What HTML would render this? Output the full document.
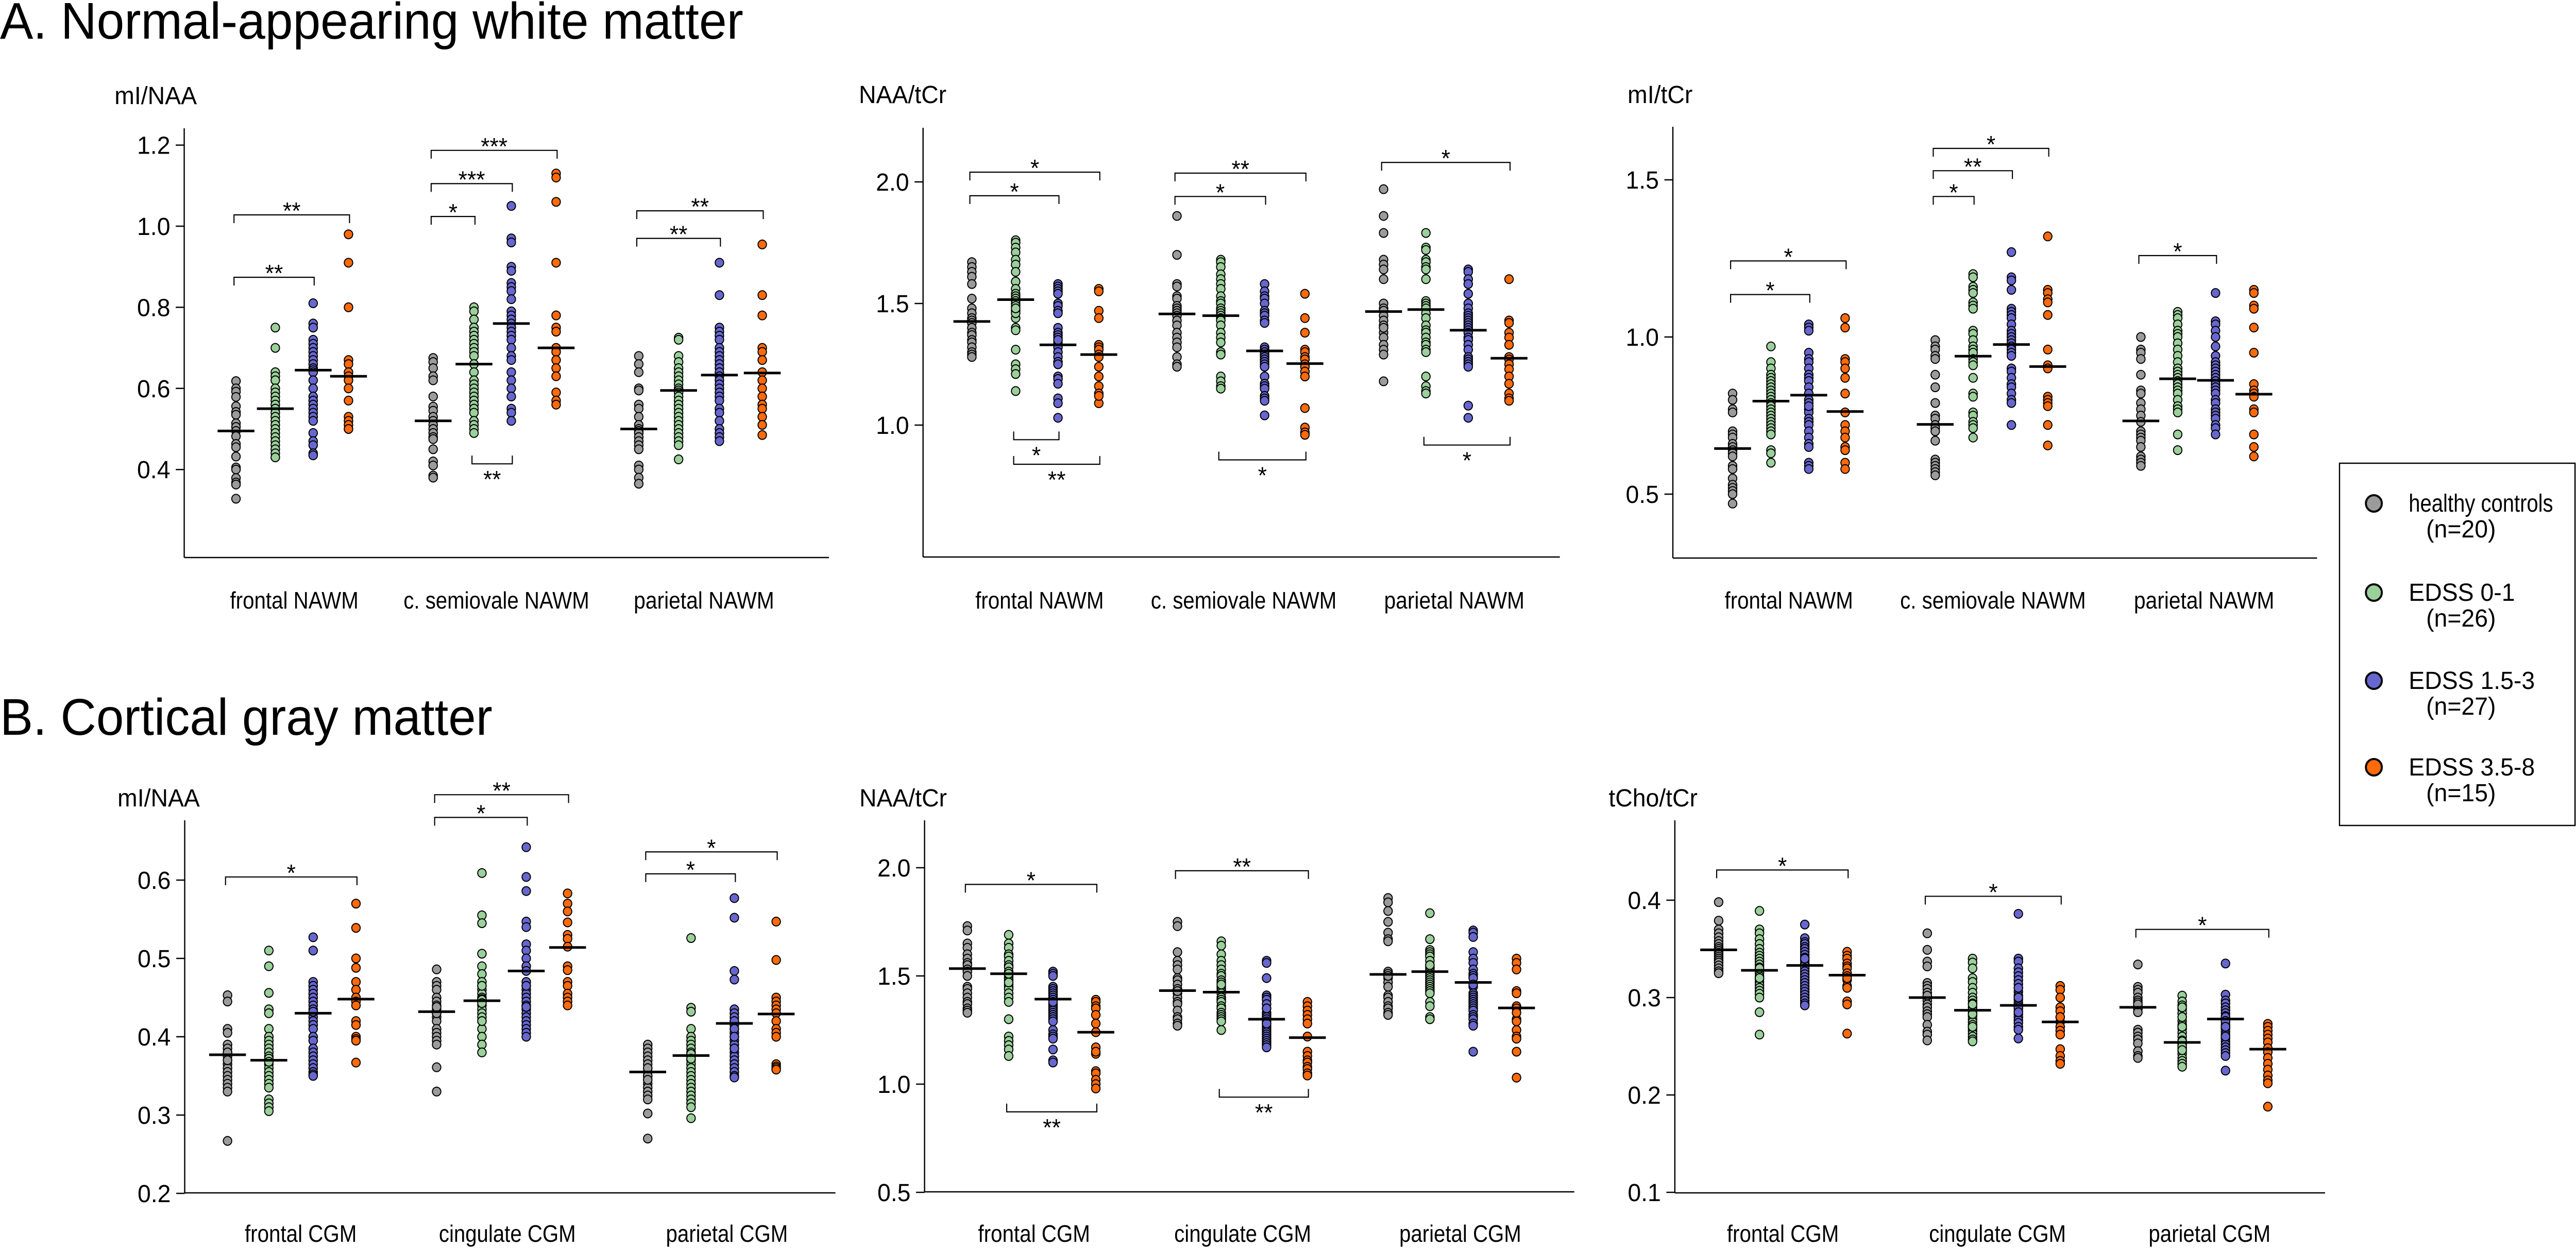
<!DOCTYPE html>
<html><head><meta charset="utf-8"><title>MRS scatter panels</title>
<style>
html,body{margin:0;padding:0;background:#fff;overflow:hidden;width:100%;height:100%;}
svg{display:block;position:fixed;left:0;top:0;width:100vw;height:100vh;font-family:"Liberation Sans",Arial,sans-serif;}
</style></head>
<body>
<svg id="fig" xmlns="http://www.w3.org/2000/svg" viewBox="0 0 5174 2422" preserveAspectRatio="none">
<rect x="0" y="0" width="5174" height="2422" fill="#fff"/>
<text x="0" y="75" font-size="100" textLength="1493" lengthAdjust="spacingAndGlyphs">A. Normal-appearing white matter</text>
<text x="0" y="1426" font-size="100" textLength="989" lengthAdjust="spacingAndGlyphs">B. Cortical gray matter</text>
<g id="legend">
<rect x="4699" y="899" width="473" height="703" fill="none" stroke="#000" stroke-width="2.5"/>
</g>
</svg>
<script>
// ---------- data ----------
const groupNames = ["healthy controls","EDSS 0-1","EDSS 1.5-3","EDSS 3.5-8"];
const groupN = ["(n=20)","(n=26)","(n=27)","(n=15)"];
const groupColors = ["#9b9b9b","#9bd09b","#6767cf","#ff6a0a"];

const p1Categories = ["frontal NAWM","c. semiovale NAWM","parietal NAWM"];
const p1Ticks = [0.4,0.6,0.8,1.0,1.2];
const p1TickLabels = ["0.4","0.6","0.8","1.0","1.2"];
const p1Medians = [[0.495,0.55,0.645,0.63],[0.52,0.66,0.76,0.70],[0.50,0.595,0.633,0.638]];
const p1Values = [
 [[0.618,0.60,0.592,0.579,0.556,0.542,0.535,0.514,0.505,0.495,0.482,0.463,0.455,0.432,0.405,0.40,0.379,0.368,0.363,0.328],
  [0.75,0.70,0.64,0.63,0.62,0.62,0.60,0.59,0.58,0.57,0.56,0.55,0.55,0.54,0.53,0.52,0.51,0.50,0.49,0.48,0.47,0.46,0.45,0.44,0.43,0.43],
  [0.81,0.76,0.75,0.72,0.71,0.70,0.69,0.68,0.67,0.66,0.65,0.645,0.64,0.62,0.60,0.58,0.57,0.56,0.55,0.54,0.53,0.52,0.49,0.47,0.46,0.44,0.435],
  [0.98,0.91,0.80,0.67,0.66,0.64,0.63,0.62,0.60,0.57,0.53,0.52,0.51,0.50,0.50]],
 [[0.675,0.665,0.65,0.63,0.62,0.58,0.555,0.545,0.53,0.52,0.51,0.50,0.49,0.48,0.475,0.45,0.42,0.41,0.385,0.38],
  [0.80,0.79,0.77,0.75,0.74,0.73,0.72,0.71,0.70,0.69,0.68,0.66,0.64,0.62,0.61,0.60,0.59,0.58,0.57,0.56,0.55,0.54,0.52,0.51,0.50,0.49],
  [1.05,0.97,0.96,0.90,0.89,0.86,0.85,0.84,0.82,0.79,0.78,0.77,0.76,0.75,0.74,0.73,0.72,0.70,0.68,0.67,0.64,0.62,0.60,0.58,0.55,0.54,0.52],
  [1.13,1.12,1.06,0.91,0.78,0.75,0.74,0.70,0.69,0.67,0.65,0.63,0.59,0.57,0.56]],
 [[0.68,0.66,0.64,0.60,0.595,0.56,0.55,0.53,0.51,0.50,0.495,0.49,0.48,0.47,0.46,0.45,0.41,0.40,0.38,0.365],
  [0.725,0.72,0.68,0.665,0.65,0.64,0.63,0.62,0.61,0.60,0.595,0.59,0.58,0.57,0.56,0.55,0.54,0.53,0.52,0.51,0.50,0.49,0.48,0.47,0.46,0.425],
  [0.91,0.83,0.75,0.74,0.73,0.72,0.70,0.69,0.68,0.67,0.66,0.65,0.64,0.63,0.62,0.61,0.60,0.59,0.58,0.57,0.55,0.54,0.52,0.50,0.49,0.48,0.47],
  [0.955,0.83,0.78,0.70,0.69,0.67,0.64,0.62,0.60,0.58,0.56,0.55,0.53,0.51,0.485]]
];
// brackets: [category, fromGroup, toGroup, value, label, side]
const p1Brackets = [[0,0,3,1.028,"**","up"],[0,0,2,0.874,"**","up"],[1,0,3,1.187,"***","up"],[1,0,2,1.105,"***","up"],[1,0,1,1.024,"*","up"],[1,1,2,0.414,"**","down"],[2,0,3,1.038,"**","up"],[2,0,2,0.97,"**","up"]];

const p2Categories = ["frontal NAWM","c. semiovale NAWM","parietal NAWM"];
const p2Ticks = [1.0,1.5,2.0];
const p2TickLabels = ["1.0","1.5","2.0"];
const p2Medians = [[1.426,1.516,1.33,1.29],[1.457,1.45,1.305,1.253],[1.467,1.475,1.39,1.275]];
const p2Values = [
 [[1.67,1.65,1.63,1.61,1.58,1.52,1.48,1.46,1.44,1.43,1.42,1.40,1.38,1.37,1.35,1.34,1.32,1.30,1.29,1.28],
  [1.76,1.75,1.73,1.71,1.68,1.66,1.63,1.59,1.56,1.54,1.53,1.52,1.51,1.50,1.49,1.47,1.44,1.40,1.39,1.31,1.25,1.23,1.21,1.14,1.46,1.48],
  [1.58,1.57,1.56,1.55,1.54,1.50,1.49,1.47,1.46,1.40,1.38,1.37,1.36,1.34,1.33,1.32,1.30,1.28,1.26,1.25,1.20,1.19,1.17,1.11,1.09,1.03,1.35],
  [1.56,1.55,1.47,1.44,1.33,1.32,1.31,1.29,1.28,1.24,1.20,1.16,1.13,1.09,1.12]],
 [[1.86,1.70,1.58,1.57,1.53,1.52,1.49,1.48,1.47,1.46,1.45,1.43,1.41,1.38,1.36,1.34,1.32,1.28,1.25,1.24],
  [1.68,1.67,1.65,1.62,1.60,1.58,1.56,1.53,1.51,1.50,1.48,1.47,1.46,1.45,1.44,1.43,1.41,1.38,1.36,1.34,1.30,1.29,1.20,1.18,1.16,1.15],
  [1.58,1.55,1.53,1.52,1.50,1.47,1.46,1.45,1.43,1.42,1.32,1.31,1.30,1.29,1.28,1.27,1.26,1.25,1.24,1.20,1.17,1.16,1.15,1.12,1.11,1.10,1.04],
  [1.54,1.44,1.38,1.31,1.30,1.28,1.27,1.25,1.24,1.22,1.20,1.07,0.99,0.97,0.96]],
 [[1.97,1.86,1.79,1.68,1.66,1.64,1.60,1.50,1.48,1.47,1.45,1.43,1.41,1.38,1.36,1.33,1.31,1.29,1.18,1.40],
  [1.79,1.73,1.72,1.68,1.67,1.65,1.64,1.60,1.51,1.50,1.49,1.48,1.46,1.44,1.41,1.39,1.38,1.36,1.34,1.33,1.31,1.30,1.20,1.16,1.14,1.13],
  [1.64,1.63,1.60,1.58,1.54,1.50,1.48,1.46,1.45,1.44,1.43,1.42,1.41,1.40,1.39,1.38,1.36,1.35,1.33,1.31,1.28,1.27,1.26,1.25,1.24,1.08,1.03],
  [1.60,1.43,1.42,1.38,1.36,1.33,1.28,1.27,1.25,1.23,1.20,1.17,1.13,1.11,1.10]]
];
const p2Brackets = [[0,0,3,2.04,"*","up"],[0,0,2,1.943,"*","up"],[0,1,2,0.94,"*","down"],[0,1,3,0.839,"**","down"],[1,0,3,2.036,"**","up"],[1,0,2,1.94,"*","up"],[1,1,3,0.857,"*","down"],[2,0,3,2.08,"*","up"],[2,1,3,0.918,"*","down"]];

const p3Categories = ["frontal NAWM","c. semiovale NAWM","parietal NAWM"];
const p3Ticks = [0.5,1.0,1.5];
const p3TickLabels = ["0.5","1.0","1.5"];
const p3Medians = [[0.645,0.796,0.815,0.763],[0.722,0.939,0.976,0.906],[0.733,0.867,0.862,0.818]];
const p3Values = [
 [[0.82,0.80,0.77,0.76,0.70,0.69,0.68,0.66,0.65,0.64,0.63,0.62,0.59,0.58,0.55,0.53,0.52,0.51,0.50,0.47],
  [0.97,0.92,0.90,0.88,0.87,0.86,0.85,0.84,0.83,0.82,0.81,0.80,0.79,0.78,0.77,0.76,0.75,0.74,0.73,0.72,0.71,0.70,0.69,0.64,0.63,0.60],
  [1.04,1.03,1.02,0.95,0.93,0.92,0.90,0.88,0.87,0.86,0.84,0.82,0.80,0.79,0.77,0.76,0.74,0.73,0.72,0.70,0.68,0.66,0.65,0.60,0.59,0.58,0.78],
  [1.06,1.03,0.93,0.92,0.90,0.87,0.82,0.76,0.72,0.70,0.68,0.65,0.64,0.60,0.58]],
 [[0.99,0.97,0.96,0.94,0.93,0.88,0.84,0.79,0.75,0.74,0.72,0.71,0.70,0.67,0.61,0.60,0.59,0.58,0.57,0.56],
  [1.20,1.19,1.16,1.15,1.14,1.11,1.10,1.09,1.02,1.01,0.99,0.97,0.96,0.95,0.93,0.92,0.91,0.87,0.82,0.81,0.76,0.75,0.73,0.72,0.71,0.68],
  [1.27,1.19,1.18,1.15,1.09,1.08,1.07,1.06,1.04,1.02,1.01,1.00,0.99,0.98,0.97,0.96,0.95,0.94,0.90,0.89,0.87,0.85,0.84,0.82,0.80,0.79,0.72],
  [1.32,1.15,1.14,1.12,1.11,1.07,0.96,0.91,0.90,0.81,0.80,0.79,0.78,0.72,0.655]],
 [[1.00,0.96,0.95,0.93,0.88,0.83,0.82,0.79,0.77,0.75,0.73,0.70,0.69,0.68,0.67,0.65,0.62,0.61,0.60,0.59],
  [1.08,1.07,1.06,1.04,1.02,1.01,1.00,0.98,0.96,0.94,0.92,0.90,0.89,0.88,0.87,0.86,0.85,0.84,0.83,0.82,0.80,0.78,0.77,0.76,0.69,0.64],
  [1.14,1.05,1.04,1.02,1.00,0.97,0.94,0.92,0.91,0.90,0.89,0.88,0.87,0.86,0.85,0.84,0.83,0.82,0.80,0.79,0.77,0.76,0.75,0.74,0.72,0.71,0.69],
  [1.15,1.14,1.10,1.09,1.03,0.95,0.85,0.83,0.82,0.81,0.77,0.76,0.69,0.65,0.62]]
];
const p3Brackets = [[0,0,3,1.242,"*","up"],[0,0,2,1.135,"*","up"],[1,0,3,1.60,"*","up"],[1,0,2,1.529,"**","up"],[1,0,1,1.447,"*","up"],[2,0,2,1.259,"*","up"]];

const p4Categories = ["frontal CGM","cingulate CGM","parietal CGM"];
const p4Ticks = [0.2,0.3,0.4,0.5,0.6];
const p4TickLabels = ["0.2","0.3","0.4","0.5","0.6"];
const p4Medians = [[0.377,0.37,0.43,0.448],[0.432,0.446,0.484,0.514],[0.355,0.376,0.417,0.429]];
const p4Values = [
 [[0.453,0.445,0.41,0.405,0.39,0.385,0.38,0.375,0.37,0.365,0.36,0.355,0.35,0.345,0.34,0.335,0.33,0.38,0.37,0.267],
  [0.51,0.49,0.456,0.435,0.43,0.41,0.40,0.395,0.39,0.385,0.38,0.375,0.37,0.365,0.36,0.355,0.35,0.345,0.34,0.335,0.32,0.315,0.31,0.305,0.372,0.368],
  [0.527,0.51,0.47,0.465,0.46,0.455,0.45,0.445,0.44,0.435,0.43,0.425,0.42,0.415,0.41,0.40,0.395,0.385,0.38,0.375,0.37,0.365,0.36,0.355,0.352,0.35,0.432],
  [0.57,0.539,0.50,0.488,0.47,0.46,0.45,0.445,0.44,0.42,0.415,0.40,0.397,0.395,0.367]],
 [[0.486,0.47,0.465,0.46,0.45,0.445,0.44,0.435,0.43,0.425,0.42,0.41,0.405,0.40,0.395,0.39,0.43,0.438,0.361,0.33],
  [0.609,0.555,0.545,0.506,0.49,0.48,0.47,0.465,0.46,0.455,0.45,0.448,0.445,0.44,0.435,0.43,0.425,0.42,0.41,0.40,0.39,0.38,0.447,0.443,0.465,0.42],
  [0.642,0.604,0.586,0.547,0.54,0.518,0.51,0.50,0.49,0.47,0.465,0.46,0.455,0.45,0.445,0.44,0.435,0.43,0.425,0.42,0.415,0.41,0.405,0.40,0.484,0.465,0.438],
  [0.583,0.57,0.56,0.546,0.53,0.525,0.515,0.49,0.485,0.47,0.465,0.455,0.45,0.445,0.44]],
 [[0.39,0.385,0.38,0.375,0.37,0.36,0.355,0.35,0.345,0.34,0.335,0.33,0.325,0.32,0.35,0.345,0.365,0.36,0.302,0.27],
  [0.526,0.437,0.432,0.41,0.40,0.395,0.39,0.385,0.38,0.375,0.37,0.365,0.36,0.355,0.35,0.345,0.34,0.335,0.33,0.325,0.32,0.315,0.31,0.296,0.378,0.372],
  [0.577,0.552,0.484,0.473,0.435,0.43,0.425,0.42,0.415,0.41,0.405,0.40,0.395,0.39,0.385,0.38,0.375,0.37,0.365,0.36,0.355,0.35,0.348,0.42,0.41,0.40,0.385],
  [0.547,0.498,0.45,0.445,0.44,0.435,0.43,0.42,0.41,0.405,0.40,0.365,0.362,0.36,0.358]]
];
const p4Brackets = [[0,0,3,0.604,"*","up"],[1,0,3,0.709,"**","up"],[1,0,2,0.680,"*","up"],[2,0,3,0.636,"*","up"],[2,0,2,0.608,"*","up"]];

const p5Categories = ["frontal CGM","cingulate CGM","parietal CGM"];
const p5Ticks = [0.5,1.0,1.5,2.0];
const p5TickLabels = ["0.5","1.0","1.5","2.0"];
const p5Medians = [[1.534,1.51,1.393,1.24],[1.432,1.425,1.30,1.215],[1.507,1.52,1.47,1.352]];
const p5Values = [
 [[1.73,1.71,1.65,1.63,1.60,1.58,1.56,1.55,1.53,1.52,1.50,1.45,1.44,1.42,1.40,1.38,1.37,1.35,1.34,1.33],
  [1.69,1.65,1.63,1.60,1.59,1.57,1.55,1.54,1.52,1.50,1.49,1.48,1.46,1.45,1.44,1.42,1.40,1.38,1.30,1.22,1.20,1.18,1.16,1.13,1.47,1.51],
  [1.52,1.51,1.50,1.45,1.44,1.43,1.42,1.41,1.40,1.39,1.37,1.36,1.35,1.34,1.33,1.32,1.31,1.30,1.25,1.23,1.22,1.21,1.16,1.11,1.10,1.38,1.29],
  [1.39,1.38,1.36,1.35,1.32,1.28,1.24,1.17,1.14,1.06,1.05,1.02,1.00,0.98,1.15]],
 [[1.75,1.73,1.61,1.57,1.55,1.53,1.49,1.48,1.46,1.44,1.42,1.40,1.38,1.37,1.34,1.31,1.30,1.28,1.27,1.43],
  [1.66,1.64,1.60,1.57,1.55,1.53,1.51,1.50,1.48,1.47,1.45,1.44,1.43,1.42,1.40,1.39,1.38,1.36,1.35,1.33,1.32,1.31,1.30,1.29,1.25,1.46],
  [1.57,1.56,1.49,1.41,1.40,1.39,1.37,1.35,1.33,1.32,1.31,1.30,1.29,1.28,1.27,1.26,1.25,1.24,1.23,1.22,1.21,1.20,1.19,1.18,1.17,1.35,1.28],
  [1.38,1.36,1.34,1.32,1.30,1.28,1.22,1.15,1.13,1.11,1.10,1.08,1.07,1.05,1.04]],
 [[1.86,1.84,1.80,1.75,1.70,1.67,1.66,1.52,1.51,1.49,1.47,1.45,1.41,1.40,1.38,1.36,1.35,1.33,1.32,1.50],
  [1.79,1.67,1.62,1.61,1.60,1.59,1.57,1.55,1.54,1.53,1.52,1.51,1.50,1.49,1.48,1.47,1.46,1.45,1.44,1.43,1.42,1.38,1.36,1.31,1.30,1.55],
  [1.71,1.70,1.68,1.61,1.58,1.56,1.53,1.51,1.50,1.49,1.45,1.42,1.41,1.40,1.39,1.38,1.37,1.36,1.35,1.34,1.32,1.31,1.30,1.28,1.27,1.15,1.46],
  [1.58,1.56,1.53,1.43,1.42,1.36,1.35,1.30,1.29,1.25,1.22,1.21,1.15,1.03,1.33]]
];
const p5Brackets = [[0,0,3,1.923,"*","up"],[0,1,3,0.872,"**","down"],[1,0,3,1.986,"**","up"],[1,1,3,0.94,"**","down"]];

const p6Categories = ["frontal CGM","cingulate CGM","parietal CGM"];
const p6Ticks = [0.1,0.2,0.3,0.4];
const p6TickLabels = ["0.1","0.2","0.3","0.4"];
const p6Medians = [[0.349,0.328,0.333,0.323],[0.30,0.287,0.292,0.275],[0.29,0.254,0.278,0.247]];
const p6Values = [
 [[0.398,0.379,0.37,0.366,0.362,0.358,0.355,0.352,0.35,0.348,0.346,0.344,0.342,0.34,0.338,0.336,0.333,0.33,0.327,0.325],
  [0.389,0.37,0.366,0.36,0.355,0.35,0.346,0.343,0.34,0.337,0.334,0.331,0.328,0.325,0.322,0.319,0.316,0.313,0.31,0.307,0.304,0.30,0.285,0.262,0.33,0.32],
  [0.375,0.361,0.357,0.355,0.352,0.35,0.347,0.344,0.341,0.338,0.335,0.333,0.33,0.327,0.324,0.321,0.318,0.315,0.312,0.309,0.306,0.303,0.30,0.297,0.294,0.292,0.34],
  [0.347,0.343,0.34,0.335,0.332,0.33,0.325,0.322,0.318,0.312,0.31,0.296,0.293,0.263,0.32]],
 [[0.366,0.349,0.337,0.332,0.315,0.312,0.309,0.305,0.30,0.297,0.293,0.29,0.286,0.283,0.28,0.272,0.265,0.262,0.256,0.302],
  [0.34,0.336,0.33,0.32,0.316,0.31,0.305,0.30,0.297,0.294,0.29,0.287,0.284,0.281,0.278,0.275,0.272,0.269,0.266,0.263,0.26,0.257,0.255,0.293,0.283,0.27],
  [0.386,0.34,0.337,0.33,0.326,0.322,0.318,0.314,0.31,0.306,0.302,0.298,0.295,0.292,0.289,0.286,0.283,0.28,0.277,0.274,0.27,0.267,0.258,0.3,0.29,0.285,0.31],
  [0.312,0.308,0.3,0.29,0.286,0.28,0.275,0.27,0.266,0.262,0.247,0.24,0.235,0.232,0.28]],
 [[0.334,0.311,0.308,0.305,0.30,0.297,0.292,0.29,0.288,0.285,0.267,0.264,0.26,0.257,0.253,0.245,0.24,0.238,0.295,0.293],
  [0.302,0.296,0.292,0.288,0.284,0.28,0.276,0.272,0.268,0.264,0.26,0.256,0.252,0.248,0.245,0.242,0.238,0.235,0.232,0.229,0.255,0.25,0.27,0.28,0.29,0.246],
  [0.335,0.303,0.297,0.294,0.29,0.287,0.284,0.281,0.278,0.275,0.272,0.27,0.268,0.265,0.262,0.258,0.255,0.252,0.249,0.246,0.243,0.24,0.225,0.28,0.276,0.27,0.26],
  [0.273,0.27,0.266,0.262,0.258,0.254,0.248,0.244,0.238,0.232,0.226,0.22,0.215,0.212,0.188]]
];
const p6Brackets = [[0,0,3,0.431,"*","up"],[1,0,3,0.404,"*","up"],[2,0,3,0.37,"*","up"]];

// ---------- layout ----------
const panels = [
 {id:"nawm-mi-naa",ylabel:"mI/NAA",cats:p1Categories,ticks:p1Ticks,tl:p1TickLabels,vals:p1Values,med:p1Medians,br:p1Brackets,
  ax:370,top:249,bot:1082,right:1665,refV:1.0,refY:439,ppu:787,lx:230,ly:202,cy:1181,
  gx:[[474,553,629,700],[870,952,1027,1117],[1283,1363,1445,1531]],cx:[591,997,1414],cw:[258,373,282]},
 {id:"nawm-naa-tcr",ylabel:"NAA/tCr",cats:p2Categories,ticks:p2Ticks,tl:p2TickLabels,vals:p2Values,med:p2Medians,br:p2Brackets,
  ax:1854,top:248,bot:1081,right:3133,refV:1.5,refY:589,ppu:472,lx:1725,ly:200,cy:1181,
  gx:[[1952,2040,2125,2207],[2364,2452,2540,2621],[2779,2864,2949,3031]],cx:[2088,2498,2921],cw:[258,373,282]},
 {id:"nawm-mi-tcr",ylabel:"mI/tCr",cats:p3Categories,ticks:p3Ticks,tl:p3TickLabels,vals:p3Values,med:p3Medians,br:p3Brackets,
  ax:3360,top:246,bot:1083,right:4654,refV:1.0,refY:654,ppu:610,lx:3269,ly:200,cy:1181,
  gx:[[3480,3557,3633,3706],[3887,3963,4040,4113],[4300,4374,4450,4527]],cx:[3593,4003,4427],cw:[258,373,282]},
 {id:"cgm-mi-naa",ylabel:"mI/NAA",cats:p4Categories,ticks:p4Ticks,tl:p4TickLabels,vals:p4Values,med:p4Medians,br:p4Brackets,
  ax:371,top:1592,bot:2315,right:1678,refV:0.4,refY:2012,ppu:1520,lx:236,ly:1565,cy:2410,
  gx:[[457,540,629,715],[877,968,1057,1140],[1301,1388,1475,1559]],cx:[604,1019,1460],cw:[225,275,245]},
 {id:"cgm-naa-tcr",ylabel:"NAA/tCr",cats:p5Categories,ticks:p5Ticks,tl:p5TickLabels,vals:p5Values,med:p5Medians,br:p5Brackets,
  ax:1857,top:1592,bot:2313,right:3162,refV:1.5,refY:1894,ppu:420,lx:1726,ly:1565,cy:2410,
  gx:[[1943,2026,2115,2201],[2365,2453,2544,2626],[2788,2872,2959,3046]],cx:[2077,2496,2933],cw:[225,275,245]},
 {id:"cgm-tcho-tcr",ylabel:"tCho/tCr",cats:p6Categories,ticks:p6Ticks,tl:p6TickLabels,vals:p6Values,med:p6Medians,br:p6Brackets,
  ax:3364,top:1592,bot:2315,right:4670,refV:0.3,refY:1936,ppu:1890,lx:3231,ly:1565,cy:2410,
  gx:[[3452,3534,3625,3710],[3871,3962,4054,4138],[4294,4383,4470,4555]],cx:[3581,4012,4438],cw:[225,275,245]}
];

const NS="http://www.w3.org/2000/svg";
const svg=document.getElementById("fig");
function mk(tag,attrs,parent){const e=document.createElementNS(NS,tag);for(const k in attrs)e.setAttribute(k,attrs[k]);(parent||svg).appendChild(e);return e;}

panels.forEach(function(p){
  const yS=function(v){return p.refY-(v-p.refV)*p.ppu;};
  const g=mk("g",{});
  
  
  const yl=mk("text",{x:p.lx,y:p.ly,"font-size":48},g); yl.textContent=p.ylabel;
  
  
  const yaxis=mk("line",{x1:p.ax,y1:p.top,x2:p.ax,y2:p.bot,stroke:"#000","stroke-width":2.5},g);
  
  
  const xaxis=mk("line",{x1:p.ax,y1:p.bot,x2:p.right,y2:p.bot,stroke:"#000","stroke-width":2.5},g);
  
  
  p.ticks.forEach(function(t,i){
    const y=yS(t);
    const tk=mk("line",{x1:p.ax-17,y1:y,x2:p.ax,y2:y,stroke:"#000","stroke-width":2.5},g);
    
    
    const tt=mk("text",{x:p.ax-28,y:y+17,"font-size":48,"text-anchor":"end"},g); tt.textContent=p.tl[i];
    
    
  });
  p.cats.forEach(function(c,ci){
    const ct=mk("text",{x:p.cx[ci]-p.cw[ci]/2,y:p.cy,"font-size":46,textLength:p.cw[ci],lengthAdjust:"spacingAndGlyphs"},g); ct.textContent=c;
    
    
    p.vals[ci].forEach(function(arr,gi){
      const x=p.gx[ci][gi];
      arr.forEach(function(v){
        const d=mk("circle",{cx:x,cy:yS(v),r:8.5,fill:groupColors[gi],stroke:"#000","stroke-width":2},g);
        
        
      });
    });
    p.med[ci].forEach(function(m,gi){
      const x=p.gx[ci][gi];
      const ml=mk("line",{x1:x-37,y1:yS(m),x2:x+37,y2:yS(m),stroke:"#000","stroke-width":5},g);
      
      
    });
  });
  p.br.forEach(function(b){
    const x1=p.gx[b[0]][b[1]]-4, x2=p.gx[b[0]][b[2]]+2, y=yS(b[3]);
    const dy=b[5]==="up"?16:-16;
    const bl=mk("path",{d:"M"+x1+" "+(y+dy)+"V"+y+"H"+x2+"V"+(y+dy),fill:"none",stroke:"#000","stroke-width":2.2},g);
    
    
    const st=mk("text",{x:(x1+x2)/2,y:b[5]==="up"?y+8:y+46,"font-size":46,"text-anchor":"middle"},g); st.textContent=b[4];
    
    
  });
});

// legend
const legend=document.getElementById("legend");
const legendY=[977,1150,1321,1489];
groupNames.forEach(function(n,i){
  const c=mk("circle",{cx:4768,cy:legendY[i],r:16,fill:groupColors[i],stroke:"#000","stroke-width":4},legend);
  
  
  const attrs={x:4838,y:legendY[i]+16,"font-size":48};
  if(i===0){attrs.textLength=290;attrs.lengthAdjust="spacingAndGlyphs";}
  const t=mk("text",attrs,legend); t.textContent=n;
  
  
  const t2=mk("text",{x:4873,y:legendY[i]+66,"font-size":48},legend); t2.textContent=groupN[i];
  
  
});
</script>
</body></html>
